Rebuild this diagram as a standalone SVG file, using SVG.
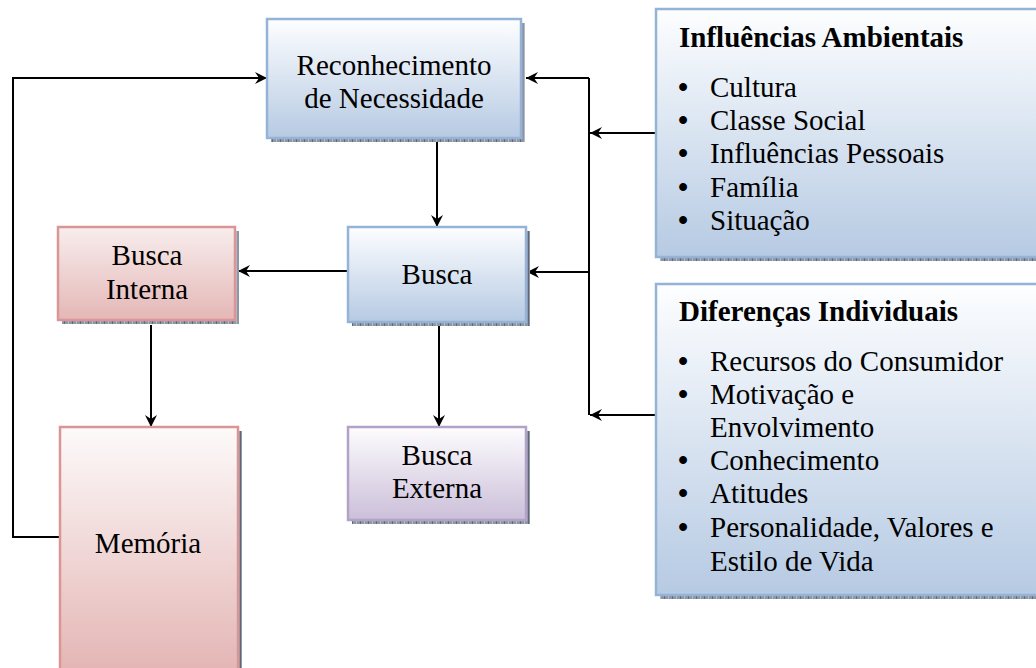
<svg xmlns="http://www.w3.org/2000/svg" width="1036" height="668" viewBox="0 0 1036 668">
<defs>
<linearGradient id="gBlue" x1="0" y1="0" x2="0" y2="1"><stop offset="0" stop-color="#fdfeff"/><stop offset="1" stop-color="#b6cae3"/></linearGradient>
<linearGradient id="gRed" x1="0" y1="0" x2="0" y2="1"><stop offset="0" stop-color="#fdfafa"/><stop offset="1" stop-color="#e3b4b3"/></linearGradient>
<linearGradient id="gRedTop" x1="0" y1="0" x2="0" y2="1"><stop offset="0" stop-color="#f8eded"/><stop offset="1" stop-color="#e4b7b6"/></linearGradient>
<linearGradient id="gPurple" x1="0" y1="0" x2="0" y2="1"><stop offset="0" stop-color="#fdfcfe"/><stop offset="1" stop-color="#cbbfd9"/></linearGradient>
<pattern id="hatch" width="8" height="4" patternUnits="userSpaceOnUse">
<rect width="8" height="4" fill="#8e97a6"/>
<rect width="1" height="4" fill="#5f6878"/>
<rect x="4" width="1" height="4" fill="#b4bac4"/>
</pattern>
<marker id="arr" viewBox="0 0 12 12" refX="12" refY="6" markerWidth="12" markerHeight="12" markerUnits="userSpaceOnUse" orient="auto">
<path d="M0,0 L12,6 L0,12 L4,6 z" fill="#000"/>
</marker>
<style>
.sh{fill:url(#hatch);}
.blue{fill:url(#gBlue);stroke:#95b3d7;stroke-width:2.5;}
.red{fill:url(#gRed);stroke:#d99694;stroke-width:2.5;}
.redtop{fill:url(#gRedTop);stroke:#d99694;stroke-width:2.5;}
.purple{fill:url(#gPurple);stroke:#b3a2c7;stroke-width:2.5;}
text{font-family:"Liberation Serif","Times New Roman",serif;font-size:29px;fill:#000;}
.c{text-anchor:middle;}
.b{font-weight:bold;}
.bu{font-weight:bold;}
.con{fill:none;stroke:#000;stroke-width:2;}
</style>
</defs>
<rect width="1036" height="668" fill="#fff"/>

<g id="connectors">
<path class="con" d="M60,537 H13 V78 H267" marker-end="url(#arr)"/>
<path class="con" d="M589,78 V415"/>
<path class="con" d="M589,78 H526" marker-end="url(#arr)"/>
<path class="con" d="M656,133 H590" marker-end="url(#arr)"/>
<path class="con" d="M589,272 H527" marker-end="url(#arr)"/>
<path class="con" d="M656,415 H590" marker-end="url(#arr)"/>
<path class="con" d="M437,142 V227" marker-end="url(#arr)"/>
<path class="con" d="M348,271 H238" marker-end="url(#arr)"/>
<path class="con" d="M439,326 V427" marker-end="url(#arr)"/>
<path class="con" d="M151,325 V427" marker-end="url(#arr)"/>
</g>

<g id="reconhecimento">
<rect class="sh" x="271" y="23" width="254" height="119"/>
<rect class="blue" x="267" y="19" width="254" height="119"/>
<text class="c" x="394" y="75">Reconhecimento</text>
<text class="c" x="394" y="108">de Necessidade</text>
</g>

<g id="busca">
<rect class="sh" x="352" y="231" width="178" height="95"/>
<rect class="blue" x="348" y="227" width="178" height="95"/>
<text class="c" x="437" y="284">Busca</text>
</g>

<g id="busca-interna">
<rect class="sh" x="62" y="231" width="177" height="93"/>
<rect class="redtop" x="58" y="227" width="177" height="93"/>
<text class="c" x="147" y="265">Busca</text>
<text class="c" x="147" y="299">Interna</text>
</g>

<g id="memoria">
<rect class="sh" x="64" y="431" width="178" height="250"/>
<rect class="red" x="60" y="427" width="178" height="250"/>
<text class="c" x="148" y="553">Memória</text>
</g>

<g id="busca-externa">
<rect class="sh" x="352" y="431" width="178" height="93"/>
<rect class="purple" x="348" y="427" width="178" height="93"/>
<text class="c" x="437" y="465">Busca</text>
<text class="c" x="437" y="498">Externa</text>
</g>

<g id="influencias">
<rect class="sh" x="660" y="13" width="400" height="248"/>
<rect class="blue" x="656" y="9" width="400" height="248"/>
<text class="b" x="679" y="47">Influências Ambientais</text>
<text y="97"><tspan class="bu" x="678">•</tspan><tspan x="710">Cultura</tspan></text>
<text y="130"><tspan class="bu" x="678">•</tspan><tspan x="710">Classe Social</tspan></text>
<text y="163"><tspan class="bu" x="678">•</tspan><tspan x="710">Influências Pessoais</tspan></text>
<text y="197"><tspan class="bu" x="678">•</tspan><tspan x="710">Família</tspan></text>
<text y="230"><tspan class="bu" x="678">•</tspan><tspan x="710">Situação</tspan></text>
</g>

<g id="diferencas">
<rect class="sh" x="660" y="288" width="400" height="311"/>
<rect class="blue" x="656" y="284" width="400" height="311"/>
<text class="b" x="679" y="321">Diferenças Individuais</text>
<text y="371"><tspan class="bu" x="678">•</tspan><tspan x="710">Recursos do Consumidor</tspan></text>
<text y="404"><tspan class="bu" x="678">•</tspan><tspan x="710">Motivação e</tspan><tspan x="710" dy="33">Envolvimento</tspan></text>
<text y="470"><tspan class="bu" x="678">•</tspan><tspan x="710">Conhecimento</tspan></text>
<text y="503"><tspan class="bu" x="678">•</tspan><tspan x="710">Atitudes</tspan></text>
<text y="537"><tspan class="bu" x="678">•</tspan><tspan x="710">Personalidade, Valores e</tspan><tspan x="710" dy="34">Estilo de Vida</tspan></text>
</g>
</svg>
